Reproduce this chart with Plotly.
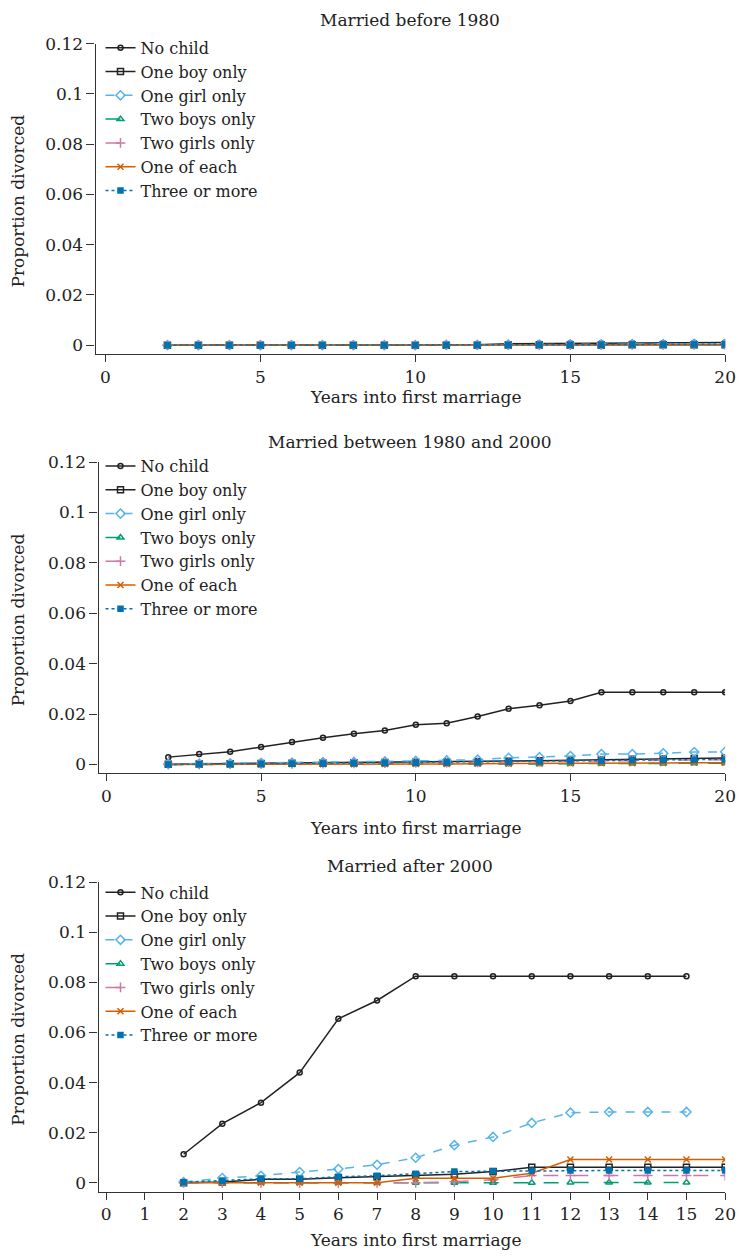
import plotly.graph_objects as go

W, H = 746, 1256
FONT = "DejaVu Serif"
FS = 17
LFS = 16

series_names = ["No child", "One boy only", "One girl only", "Two boys only",
                "Two girls only", "One of each", "Three or more"]
panel_titles = ["Married before 1980", "Married between 1980 and 2000", "Married after 2000"]
x_title = "Years into first marriage"
y_title = "Proportion divorced"

y_tickvals = [0, 0.02, 0.04, 0.06, 0.08, 0.1, 0.12]
y_ticktext = ["0", "0.02", "0.04", "0.06", "0.08", "0.1", "0.12"]
x_tickvals_ab = [0, 5, 10, 15, 20]

# Panels 1 and 2: years 2..20
years_ab = [2, 3, 4, 5, 6, 7, 8, 9, 10, 11, 12, 13, 14, 15, 16, 17, 18, 19, 20]

p1_no_child = [0, 0, 0, 0, 0, 0, 0, 0, 0, 0, 0.0002, 0.0006, 0.0007, 0.0008, 0.0008, 0.0009, 0.0009, 0.0010, 0.0011]
p1_one_boy = [0, 0, 0, 0, 0, 0, 0, 0, 0, 0, 0, 0.0001, 0.0001, 0.0001, 0.0001, 0.0002, 0.0002, 0.0002, 0.0002]
p1_one_girl = [0, 0, 0, 0, 0, 0, 0, 0, 0, 0.0001, 0.0001, 0.0002, 0.0002, 0.0003, 0.0003, 0.0004, 0.0004, 0.0005, 0.0006]
p1_two_boys = [0, 0, 0, 0, 0, 0, 0, 0, 0, 0, 0, 0, 0, 0, 0, 0, 0, 0, 0]
p1_two_girls = [0, 0, 0, 0, 0, 0, 0, 0, 0, 0, 0, 0, 0.0001, 0.0001, 0.0001, 0.0001, 0.0001, 0.0001, 0.0001]
p1_one_each = [0, 0, 0, 0, 0, 0, 0, 0, 0, 0, 0, 0, 0, 0.0001, 0.0001, 0.0001, 0.0001, 0.0002, 0.0002]
p1_three_more = [0, 0, 0, 0, 0, 0, 0, 0, 0, 0.0001, 0.0001, 0.0001, 0.0002, 0.0002, 0.0002, 0.0003, 0.0003, 0.0003, 0.0004]

p2_no_child = [0.0029, 0.0041, 0.0050, 0.0069, 0.0089, 0.0106, 0.0122, 0.0135, 0.0157, 0.0163, 0.0190, 0.0221, 0.0235, 0.0252, 0.0286, 0.0286, 0.0286, 0.0286, 0.0286]
p2_one_boy = [0.0001, 0.0002, 0.0003, 0.0004, 0.0005, 0.0006, 0.0007, 0.0008, 0.0009, 0.0010, 0.0011, 0.0013, 0.0015, 0.0017, 0.0019, 0.0021, 0.0023, 0.0024, 0.0026]
p2_one_girl = [0.0002, 0.0003, 0.0004, 0.0006, 0.0007, 0.0009, 0.0010, 0.0012, 0.0014, 0.0016, 0.0019, 0.0026, 0.0029, 0.0033, 0.0041, 0.0041, 0.0044, 0.0049, 0.0050]
p2_two_boys = [0, 0, 0, 0, 0, 0.0001, 0.0001, 0.0001, 0.0001, 0.0001, 0.0002, 0.0002, 0.0002, 0.0003, 0.0003, 0.0004, 0.0004, 0.0005, 0.0005]
p2_two_girls = [0, 0, 0.0001, 0.0001, 0.0002, 0.0003, 0.0004, 0.0005, 0.0006, 0.0007, 0.0008, 0.0009, 0.0011, 0.0012, 0.0014, 0.0015, 0.0017, 0.0018, 0.0019]
p2_one_each = [0, 0, 0, 0, 0.0001, 0.0001, 0.0001, 0.0002, 0.0002, 0.0002, 0.0003, 0.0003, 0.0004, 0.0004, 0.0005, 0.0005, 0.0006, 0.0007, 0.0007]
p2_three_more = [0, 0.0001, 0.0001, 0.0002, 0.0003, 0.0004, 0.0005, 0.0006, 0.0007, 0.0008, 0.0009, 0.0011, 0.0012, 0.0014, 0.0015, 0.0017, 0.0018, 0.0019, 0.0020]

# Panel 3: categorical-style year axis (0..15 then 20)
p3_tick_labels = ["0", "1", "2", "3", "4", "5", "6", "7", "8", "9", "10", "11", "12", "13", "14", "15", "20"]
p3_years_short = ["2", "3", "4", "5", "6", "7", "8", "9", "10", "11", "12", "13", "14", "15"]
p3_years_long = ["2", "3", "4", "5", "6", "7", "8", "9", "10", "11", "12", "13", "14", "15", "20"]

p3_no_child = [0.0114, 0.0236, 0.0320, 0.0440, 0.0655, 0.0728, 0.0825, 0.0825, 0.0825, 0.0825, 0.0825, 0.0825, 0.0825, 0.0825]
p3_one_boy = [0, 0.0003, 0.0014, 0.0014, 0.0020, 0.0024, 0.0031, 0.0034, 0.0045, 0.0062, 0.0062, 0.0062, 0.0062, 0.0062, 0.0062]
p3_one_girl = [0.0003, 0.0019, 0.0028, 0.0043, 0.0055, 0.0072, 0.0100, 0.0150, 0.0183, 0.0239, 0.0280, 0.0283, 0.0283, 0.0283]
p3_two_boys = [0.0002, 0, 0, 0, 0, 0, 0, 0, 0, 0, 0.0001, 0.0001, 0.0001, 0.0001]
p3_two_girls = [0, 0, 0, 0, 0, 0, 0, 0.0004, 0.0012, 0.0029, 0.0029, 0.0029, 0.0029, 0.0029, 0.0029]
p3_one_each = [0, 0, 0, 0, 0, 0, 0.0018, 0.0018, 0.0018, 0.0038, 0.0093, 0.0093, 0.0093, 0.0093, 0.0093]
p3_three_more = [0.0002, 0.0008, 0.0016, 0.0016, 0.0024, 0.0028, 0.0036, 0.0045, 0.0046, 0.0048, 0.0049, 0.0049, 0.0049, 0.0049, 0.0049]

colors = ["#222222", "#222222", "#56B4E9", "#009E73", "#CC79A7", "#D55E00", "#0072B2"]
dashes = ["solid", "solid", "dash", "longdash", "longdash", "solid", "dot"]
symbols = ["circle-open", "square-open", "diamond-open", "triangle-up-open",
           "cross-thin-open", "x-thin-open", "square"]
msizes = [5, 6, 7, 6, 7, 6, 5]

p3_idx = lambda labs: [p3_tick_labels.index(s) for s in labs]

panels = [
    (years_ab, [p1_no_child, p1_one_boy, p1_one_girl, p1_two_boys, p1_two_girls, p1_one_each, p1_three_more], None),
    (years_ab, [p2_no_child, p2_one_boy, p2_one_girl, p2_two_boys, p2_two_girls, p2_one_each, p2_three_more], None),
    (None, [p3_no_child, p3_one_boy, p3_one_girl, p3_two_boys, p3_two_girls, p3_one_each, p3_three_more],
     [p3_years_short, p3_years_long, p3_years_short, p3_years_short, p3_years_long, p3_years_long, p3_years_long]),
]

fig = go.Figure()
legend_ids = ["legend", "legend2", "legend3"]
for pi, (xs, ys_list, xlabs) in enumerate(panels):
    axn = "" if pi == 0 else str(pi + 1)
    for si, ys in enumerate(ys_list):
        x = xs if xs is not None else p3_idx(xlabs[si])
        fig.add_trace(go.Scatter(
            x=x, y=ys, name=series_names[si], mode="lines+markers",
            xaxis="x" + axn, yaxis="y" + axn, legend=legend_ids[pi],
            line=dict(color=colors[si], width=1.5, dash=dashes[si]),
            marker=dict(symbol=symbols[si], size=msizes[si], color=colors[si],
                        line=dict(color=colors[si], width=1.5)),
        ))

def fy(p):
    return 1 - p / H

def fx(p):
    return p / W

# pixel geometry per panel: (x_left, x_right, y_top, y_bottom)
geo = [(97, 736, 34, 347), (100, 736, 456, 770), (100, 736, 880, 1192)]
xranges = [[-0.32, 20], [-0.255, 20], [-0.2, 16]]

axis_common = dict(showline=True, linecolor="#333333", linewidth=1.3, ticks="outside",
                   ticklen=7, tickwidth=1.3, tickcolor="#333333", showgrid=False,
                   zeroline=False, ticklabeloverflow="allow",
                   tickfont=dict(family=FONT, size=FS, color="#222222"))

layout = dict(width=W, height=H, margin=dict(l=0, r=0, t=0, b=0),
              plot_bgcolor="white", paper_bgcolor="white",
              font=dict(family=FONT, size=FS, color="#222222"), annotations=[])

legend_tops = [21, 443, 873]
title_y = [10, 436, 864]
xtitle_y = [390, 825, 1241]
for pi in range(3):
    axn = "" if pi == 0 else str(pi + 1)
    xl, xr, yt, yb = geo[pi]
    xa = dict(axis_common, domain=[fx(xl), fx(xr)], range=xranges[pi],
              anchor="y" + axn)
    if pi < 2:
        xa.update(tickvals=x_tickvals_ab, ticktext=[str(v) for v in x_tickvals_ab])
    else:
        xa.update(tickvals=list(range(len(p3_tick_labels))), ticktext=p3_tick_labels)
    ya = dict(axis_common, domain=[fy(yb), fy(yt)], range=[-0.0035, 0.12],
              tickvals=y_tickvals, ticktext=y_ticktext, anchor="x" + axn, ticklen=8)
    layout["xaxis" + axn] = xa
    layout["yaxis" + axn] = ya
    layout[legend_ids[pi]] = dict(x=fx(102), y=fy(legend_tops[pi]), xanchor="left", yanchor="top",
                                  bgcolor="rgba(0,0,0,0)", borderwidth=0,
                                  font=dict(family=FONT, size=LFS, color="#222222"),
                                  tracegroupgap=0, itemwidth=30)
    ann_common = dict(xref="paper", yref="paper", showarrow=False, xanchor="center", yanchor="middle",
                      font=dict(family=FONT, size=FS, color="#222222"))
    layout["annotations"].append(dict(ann_common, text=panel_titles[pi], x=fx(416), y=fy(title_y[pi])))
    layout["annotations"].append(dict(ann_common, text=x_title, x=fx(422), y=fy(xtitle_y[pi])))
    layout["annotations"].append(dict(ann_common, text=y_title, x=fx(18), y=fy((yt + yb) / 2 + 2),
                                      textangle=-90))

fig.update_layout(**layout)
fig.write_html("out.html", config={"displayModeBar": False},
               post_script="document.body.style.margin='0';document.body.style.overflow='hidden';")
